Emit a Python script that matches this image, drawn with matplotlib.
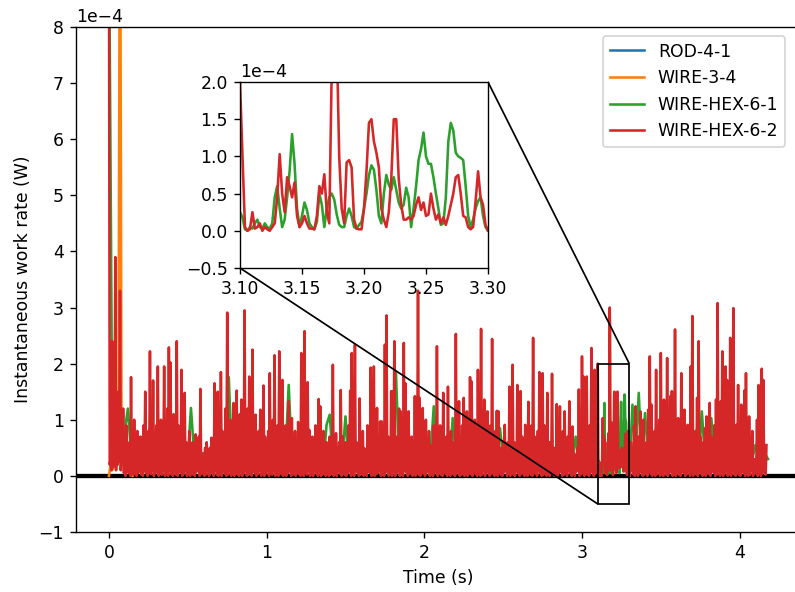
import numpy as np
import matplotlib
matplotlib.use("Agg")
import matplotlib.pyplot as plt
from mpl_toolkits.axes_grid1.inset_locator import mark_inset

plt.rcParams["axes.formatter.limits"] = (-3, 4)

SCALE = 1e-4  # values below are in units of 1e-4 W

labels = ["ROD-4-1", "WIRE-3-4", "WIRE-HEX-6-1", "WIRE-HEX-6-2"]

# ---- WIRE-HEX-6-2 (red): local maxima every 0.01 s, t = 0.00 .. 3.09
red_pk_a = [
    10.0, 0.3, 2.4, 0.2, 3.9, 0.6, 1.5, 3.3, 0.4, 1.2,
    0.4, 0.9, 0.3, 0.6, 1.76, 0.5, 1.0, 0.4, 0.8, 0.6,
    0.7, 0.4, 0.9, 1.5, 0.5, 0.8, 2.22, 0.6, 1.7, 0.5,
    0.9, 1.95, 0.5, 1.0, 0.7, 1.95, 0.6, 1.2, 2.29, 2.02,
    0.6, 1.1, 0.5, 2.40, 0.9, 0.7, 1.89, 0.4, 1.48, 0.6,
    0.5, 0.8, 0.4, 0.6, 0.3, 0.74, 0.5, 0.7, 1.55, 0.4,
    0.3, 0.5, 0.6, 0.3, 0.5, 0.68, 0.4, 1.65, 0.6, 1.5,
    0.5, 1.85, 0.8, 0.6, 1.2, 2.91, 0.4, 1.0, 0.7, 1.3,
    0.6, 1.52, 0.5, 1.1, 1.36, 0.7, 2.95, 0.8, 1.2, 1.77,
    0.6, 2.25, 0.7, 1.09, 0.5, 0.8, 1.18, 0.6, 1.61, 0.7,
    0.6, 0.8, 1.83, 0.5, 1.0, 2.15, 0.6, 0.9, 2.22, 0.7,
    1.71, 0.6, 0.9, 0.5, 1.33, 0.7, 1.03, 0.5, 0.8, 0.6,
    0.96, 0.7, 2.19, 0.6, 2.58, 0.8, 1.67, 0.82, 0.5, 0.7,
    0.5, 0.9, 0.6, 1.37, 1.24, 0.5, 0.8, 0.6, 0.6, 0.5,
    0.7, 0.5, 1.98, 0.6, 0.76, 0.5, 0.6, 1.53, 0.7, 0.4,
    0.6, 0.5, 0.9, 1.52, 2.19, 0.7, 2.34, 0.6, 0.5, 1.38,
    0.5, 0.8, 0.49, 0.4, 0.9, 0.6, 1.93, 0.7, 1.95, 0.6,
    1.21, 0.5, 0.97, 0.97, 0.6, 2.34, 2.86, 0.7, 0.6, 1.51,
    1.51, 2.40, 0.7, 0.6, 1.2, 1.15, 0.5, 2.37, 1.65, 0.6,
    1.15, 0.6, 0.70, 0.5, 1.42, 0.6, 3.30, 1.39, 0.7, 1.21,
    0.5, 1.0, 0.6, 0.8, 0.55, 0.4, 0.9, 0.6, 2.31, 0.5,
    0.9, 0.6, 1.48, 0.5, 0.7, 1.59, 0.4, 0.8, 0.6, 0.5,
    2.53, 0.6, 1.33, 0.7, 0.9, 1.39, 0.5, 1.15, 0.7, 1.76,
    1.68, 0.6, 1.0, 0.7, 1.89, 0.5, 2.62, 0.8, 1.36, 0.6,
    1.15, 0.7, 0.9, 2.44, 0.6, 0.8, 1.16, 1.15, 0.5, 0.5,
    0.6, 0.91, 0.5, 0.6, 1.59, 0.7, 1.98, 0.6, 0.5, 1.62,
    0.6, 1.51, 0.7, 0.6, 0.91, 0.5, 1.32, 0.7, 0.9, 2.46,
    0.6, 0.7, 0.8, 1.85, 0.6, 1.83, 0.9, 0.7, 1.48, 0.6,
    0.6, 1.82, 0.5, 0.5, 1.28, 0.7, 1.24, 0.6, 0.8, 1.15,
    0.5, 0.7, 1.33, 0.6, 0.88, 0.4, 0.3, 0.5, 1.54, 0.6,
    2.13, 1.77, 0.6, 1.77, 0.3, 0.9, 2.28, 0.7, 1.89, 0.6,
]
# red local minima, t = 0.005 .. 3.095 (every 0.01 s)
red_vl_a = [
    0.2, 0.1, 0.15, 0.3, 0.1, 0.2, 0.25, 0.1, 0.3, 0.05,
    0.0, 0.1, 0.05, 0.0, 0.1, 0.02, 0.08, 0.0, 0.05, 0.1,
    0.02, 0.0, 0.1, 0.05, 0.0, 0.08, 0.03, 0.1, 0.0, 0.05,
    0.1, 0.0, 0.05, 0.02, 0.1, 0.0, 0.06, 0.0, 0.1, 0.03,
    0.0, 0.08, 0.02, 0.0, 0.1, 0.05, 0.0, 0.04, 0.1, 0.0,
    0.05, 0.0, 0.1, 0.02, 0.0, 0.07, 0.1, 0.0, 0.03, 0.05,
    0.0, 0.02, 0.1, 0.0, 0.05, 0.08, 0.0, 0.1, 0.02, 0.0,
    0.06, 0.0, 0.1, 0.04, 0.0, 0.02, 0.1, 0.0, 0.05, 0.0,
    0.1, 0.03, 0.0, 0.08, 0.0, 0.05, 0.1, 0.0, 0.02, 0.06,
    0.0, 0.1, 0.05, 0.0, 0.03, 0.1, 0.0, 0.07, 0.0, 0.04,
    0.1, 0.0, 0.05, 0.02, 0.1, 0.0, 0.06, 0.0, 0.1, 0.03,
    0.0, 0.08, 0.0, 0.05, 0.1, 0.0, 0.02, 0.1, 0.0, 0.05,
    0.03, 0.0, 0.1, 0.0, 0.06, 0.02, 0.1, 0.0, 0.04, 0.0,
    0.1, 0.05, 0.0, 0.08, 0.0, 0.03, 0.1, 0.0, 0.05, 0.0,
    0.02, 0.1, 0.0, 0.06, 0.0, 0.1, 0.04, 0.0, 0.08, 0.02,
    0.0, 0.05, 0.1, 0.0, 0.03, 0.0, 0.1, 0.06, 0.0, 0.02,
    0.1, 0.0, 0.04, 0.0, 0.08, 0.05, 0.0, 0.1, 0.0, 0.03,
    0.05, 0.1, 0.0, 0.02, 0.0, 0.06, 0.1, 0.0, 0.04, 0.0,
    0.08, 0.0, 0.05, 0.1, 0.0, 0.02, 0.0, 0.1, 0.06, 0.0,
    0.03, 0.1, 0.0, 0.05, 0.0, 0.08, 0.02, 0.0, 0.1, 0.04,
    0.0, 0.06, 0.1, 0.0, 0.02, 0.0, 0.05, 0.1, 0.0, 0.08,
    0.02, 0.0, 0.1, 0.04, 0.0, 0.06, 0.0, 0.1, 0.03, 0.0,
    0.05, 0.1, 0.0, 0.02, 0.08, 0.0, 0.1, 0.0, 0.05, 0.03,
    0.0, 0.1, 0.04, 0.0, 0.06, 0.0, 0.02, 0.1, 0.0, 0.05,
    0.08, 0.0, 0.03, 0.1, 0.0, 0.05, 0.0, 0.1, 0.02, 0.0,
    0.06, 0.1, 0.0, 0.04, 0.0, 0.08, 0.02, 0.0, 0.1, 0.05,
    0.0, 0.03, 0.1, 0.0, 0.06, 0.0, 0.1, 0.02, 0.0, 0.08,
    0.04, 0.0, 0.1, 0.05, 0.0, 0.02, 0.1, 0.0, 0.06, 0.0,
    0.1, 0.03, 0.0, 0.08, 0.0, 0.05, 0.1, 0.0, 0.02, 0.06,
    0.0, 0.1, 0.04, 0.0, 0.05, 0.0, 0.08, 0.1, 0.0, 0.03,
    0.05, 0.0, 0.1, 0.02, 0.0, 0.06, 0.1, 0.0, 0.04, 0.1,
]
# red local maxima, t = 3.31 .. 4.17
red_pk_b = [
    0.6, 0.5, 0.9, 1.24, 0.6, 0.7, 1.15, 0.6, 1.0,
    0.5, 0.6, 1.18, 2.13, 1.27, 0.6, 0.8, 1.89, 0.7, 1.0,
    2.19, 0.6, 1.36, 0.7, 2.1, 0.6, 1.42, 1.51, 0.7, 2.61,
    0.6, 1.03, 0.7, 1.83, 0.5, 1.18, 0.6, 0.91, 0.5, 1.95,
    2.85, 0.6, 0.8, 1.39, 2.40, 0.7, 0.4, 0.6, 0.85, 1.06,
    0.6, 1.30, 0.7, 0.6, 0.9, 1.36, 3.08, 0.6, 1.33, 2.22,
    0.6, 1.95, 1.71, 0.7, 2.46, 0.6, 2.99, 0.7, 0.91, 1.62,
    0.6, 1.27, 0.7, 1.52, 1.83, 0.6, 1.06, 0.5, 0.8, 0.3,
    0.3, 1.0, 1.62, 0.6, 1.91, 1.71, 0.5, 0.55,
]
# red local minima, t = 3.305 .. 4.165
red_vl_b = [
    0.0, 0.1, 0.03, 0.0, 0.08, 0.0, 0.05, 0.1, 0.0, 0.02,
    0.06, 0.0, 0.1, 0.04, 0.0, 0.08, 0.0, 0.03, 0.1, 0.0,
    0.05, 0.0, 0.1, 0.02, 0.0, 0.06, 0.1, 0.0, 0.04, 0.0,
    0.08, 0.02, 0.0, 0.1, 0.05, 0.0, 0.03, 0.1, 0.0, 0.06,
    0.0, 0.1, 0.02, 0.0, 0.08, 0.04, 0.0, 0.1, 0.0, 0.05,
    0.03, 0.0, 0.1, 0.06, 0.0, 0.02, 0.1, 0.0, 0.08, 0.0,
    0.04, 0.1, 0.0, 0.05, 0.0, 0.1, 0.03, 0.0, 0.06, 0.02,
    0.0, 0.1, 0.05, 0.0, 0.08, 0.0, 0.02, 0.1, 0.0, 0.04,
    0.1, 0.0, 0.06, 0.0, 0.05, 0.1, 0.02,
]
# red, fine 0.002 s samples, t = 3.100 .. 3.300 (zoomed window)
red_f = [
    2.0, 1.0, 0.05, 0.0, 0.02, 0.25, 0.03, 0.05, 0.1, 0.0,
    0.05, 0.02, 0.0, 0.05, 0.1, 0.45, 1.03, 0.5, 0.25, 0.72,
    0.6, 0.45, 0.65, 0.2, 0.05, 0.1, 0.2, 0.1, 0.03, 0.03,
    0.02, 0.2, 0.6, 0.5, 0.76, 0.25, 0.1, 2.2, 3.0, 2.6,
    1.0, 0.3, 0.1, 0.92, 0.95, 0.85, 0.15, 0.03, 0.02, 0.02,
    0.3, 0.8, 1.45, 1.5, 1.2, 1.05, 0.85, 0.3, 0.15, 0.05,
    0.25, 0.7, 1.5, 1.5, 0.7, 0.35, 0.15, 0.15, 0.18, 0.15,
    0.2, 0.35, 0.45, 0.28, 0.38, 0.2, 0.22, 0.5, 0.3, 0.15,
    0.22, 0.1, 0.18, 0.08, 0.2, 0.35, 0.5, 0.72, 0.75, 0.5,
    0.2, 0.18, 0.05, 0.02, 0.05, 0.4, 0.8, 0.45, 0.35, 0.08,
    0.0,
]

# ---- WIRE-HEX-6-1 (green), 0.02 s samples, t = 0.00 .. 3.08
green_a = [
    10.0, 1.1, 1.0, 0.9, 0.2,
    0.8, 1.2, 0.4, 0.6, 0.3,
    0.4, 0.3, 0.5, 0.2, 0.4,
    0.3, 0.5, 0.2, 0.4, 0.3,
    0.4, 0.2, 0.5, 0.3, 0.2,
    0.3, 1.21, 0.4, 0.2, 0.3,
    0.41, 0.2, 0.3, 0.4, 0.2,
    0.3, 0.5, 0.2, 1.76, 0.3,
    0.4, 0.2, 0.5, 0.3, 0.4,
    0.2, 0.3, 0.4, 0.2, 0.3,
    0.4, 0.3, 0.2, 0.5, 0.3,
    0.2, 0.4, 1.62, 0.3, 0.2,
    0.3, 0.4, 0.2, 0.3, 0.5,
    0.2, 0.3, 0.4, 0.2, 0.91,
    1.09, 0.3, 0.4, 0.2, 0.3,
    1.06, 0.2, 0.4, 0.3, 0.2,
    0.3, 0.4, 0.2, 0.5, 0.3,
    0.4, 0.2, 0.3, 0.4, 0.2,
    0.3, 1.86, 0.2, 0.4, 0.3,
    0.2, 0.4, 0.3, 0.2, 0.4,
    0.3, 0.2, 0.4, 1.24, 0.3,
    0.2, 0.4, 0.3, 0.2, 1.03,
    0.3, 0.2, 0.4, 0.3, 0.2,
    0.4, 0.3, 0.2, 0.4, 0.3,
    0.2, 0.3, 0.4, 0.2, 0.85,
    0.3, 0.2, 0.4, 0.3, 0.2,
    0.4, 0.3, 0.2, 0.4, 0.3,
    0.2, 0.4, 0.3, 0.2, 0.4,
    0.3, 0.2, 0.4, 0.3, 0.2,
    0.4, 0.2, 0.3, 0.70, 0.2,
    0.3, 0.2, 0.61, 0.3, 0.2,
]
# green, 0.02 s samples, t = 3.32 .. 4.18
green_b = [
    1.27, 0.3, 1.48, 0.2,
    1.12, 0.3, 0.2, 0.4, 0.3,
    0.2, 0.4, 0.3, 0.2, 0.4,
    0.3, 0.2, 1.0, 0.3, 0.2,
    0.4, 0.3, 0.2, 1.15, 0.3,
    0.2, 1.03, 0.4, 0.3, 0.2,
    0.4, 0.3, 0.2, 0.4, 0.3,
    0.2, 0.4, 0.3, 0.2, 0.3,
    0.55, 0.3, 0.2, 0.4, 0.3,
]
# green, fine 0.002 s samples, t = 3.100 .. 3.300
green_f = [
    0.25, 0.18, 0.02, 0.0, 0.05, 0.03, 0.1, 0.15, 0.05, 0.03,
    0.1, 0.05, 0.03, 0.1, 0.45, 0.6, 0.3, 0.05, 0.15, 0.45,
    0.8, 1.3, 0.9, 0.3, 0.05, 0.2, 0.38, 0.28, 0.1, 0.05,
    0.02, 0.12, 0.5, 0.35, 0.05, 0.3, 0.45, 0.5, 0.42, 0.22,
    0.08, 0.05, 0.05, 0.2, 0.3, 0.2, 0.05, 0.03, 0.08, 0.12,
    0.3, 0.5, 0.75, 0.88, 0.82, 0.55, 0.2, 0.1, 0.5, 0.75,
    0.62, 0.55, 0.72, 0.55, 0.38, 0.3, 0.35, 0.58, 0.45, 0.05,
    0.3, 0.6, 0.95, 1.1, 1.32, 1.0, 0.9, 0.9, 0.72, 0.5,
    0.3, 0.08, 0.1, 0.45, 1.2, 1.45, 1.35, 1.05, 1.0, 0.98,
    0.95, 0.6, 0.2, 0.05, 0.15, 0.3, 0.4, 0.45, 0.2, 0.05,
    0.0,
]

# ---- WIRE-3-4 (orange), 0.01 s samples, t = 0.00 .. 0.15
orange = [0.0, 0.2, 0.1, 0.15, 0.3, 0.2, 0.5, 12.0, 0.3, 0.2,
          0.1, 0.2, 0.1, 0.05, 0.1, 0.0]
# ---- ROD-4-1 (blue), 0.5 s samples, t = 0.0 .. 4.0
blue = [0.0, 0.01, 0.0, 0.01, 0.0, 0.01, 0.0, 0.01, 0.0]

# ---- assemble time axes
t_r = np.concatenate([np.arange(len(red_pk_a)) * 0.01,
                      0.005 + np.arange(len(red_vl_a)) * 0.01,
                      3.1 + np.arange(len(red_f)) * 0.002,
                      3.31 + np.arange(len(red_pk_b)) * 0.01,
                      3.305 + np.arange(len(red_vl_b)) * 0.01])
v_r = np.concatenate([red_pk_a, red_vl_a, red_f, red_pk_b, red_vl_b])
order = np.argsort(t_r, kind="stable")
t_red, y_red = t_r[order], v_r[order] * SCALE

t_green = np.concatenate([np.arange(len(green_a)) * 0.02,
                          3.1 + np.arange(len(green_f)) * 0.002,
                          3.32 + np.arange(len(green_b)) * 0.02])
y_green = np.concatenate([green_a, green_f, green_b]) * SCALE
t_orange = np.arange(len(orange)) * 0.01
t_blue = np.arange(len(blue)) * 0.5

colors = ["#1f77b4", "#ff7f0e", "#2ca02c", "#d62728"]

W, H = 795, 592
DPI = 124.2
fig = plt.figure(figsize=(W / DPI, H / DPI), dpi=DPI)
ax = fig.add_axes([76 / W, 1 - 532 / H, (801 - 76) / W, (532 - 27) / H])

series = [(t_blue, np.array(blue) * SCALE), (t_orange, np.array(orange) * SCALE),
          (t_green, y_green), (t_red, y_red)]
zs = [2.0, 2.3, 2.4, 2.5]
for (tt, yy), c, lab, z in zip(series, colors, labels, zs):
    ax.plot(tt, yy, color=c, lw=1.5, label=lab, zorder=z)
ax.axhline(0, color="k", lw=2.5, zorder=2.2)

ax.set_xlim(-0.209, 4.389)
ax.set_ylim(-1e-4, 8e-4)
ax.set_xlabel("Time (s)")
ax.set_ylabel("Instantaneous work rate (W)")
ax.legend(loc="upper right", bbox_to_anchor=(794 / W, 1 - 27 / H),
          bbox_transform=fig.transFigure)

# inset
axins = fig.add_axes([240 / W, 1 - 268 / H, 248 / W, 186 / H])
axins.plot(t_green, y_green, color=colors[2], lw=1.5)
axins.plot(t_red, y_red, color=colors[3], lw=1.5)
axins.set_xlim(3.1, 3.3)
axins.set_ylim(-0.5e-4, 2e-4)
axins.set_xticks([3.10, 3.15, 3.20, 3.25, 3.30])
mark_inset(ax, axins, loc1=1, loc2=3, fc="none", ec="k", lw=1.0, zorder=5)

fig.savefig("out.png", dpi=DPI)
